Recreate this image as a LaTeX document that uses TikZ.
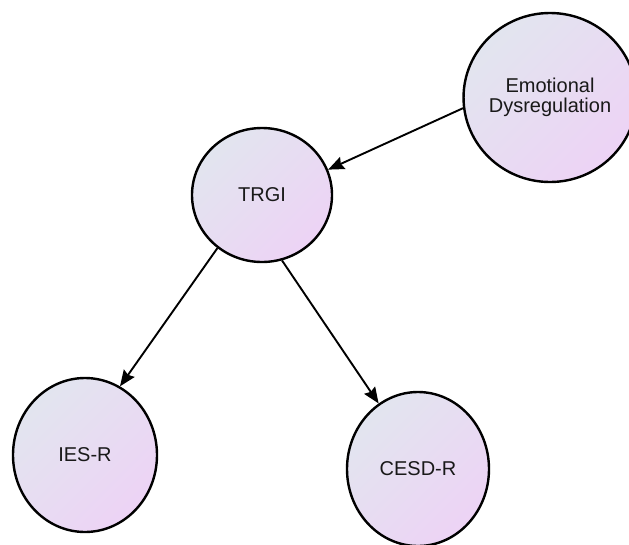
\documentclass[tikz,border=0pt]{standalone}
\usepackage{fontspec}
\setmainfont{Liberation Sans}
\usetikzlibrary{shapes.geometric,arrows.meta}

\definecolor{fillA}{HTML}{E2E5EF}
\definecolor{fillB}{HTML}{EDD3F5}

\tikzset{
  var/.style={ellipse, draw=black, line width=2.4pt, inner sep=0pt,
    shading=axis, top color=fillA, bottom color=fillB, shading angle=45,
    align=center, font=\fontsize{20}{19.5}\selectfont, text=black!90},
  link/.style={draw=black, line width=1.9pt,
    -{Stealth[length=16pt,width=13pt,inset=2pt]}}
}

\begin{document}
\begin{tikzpicture}[x=1pt,y=-1pt]
  \useasboundingbox (0,0) rectangle (629,544);

  \node[var, minimum width=160pt, minimum height=169pt] (ed) at (550,97.5) {Emotional\\Dysregulation};
  \node[var, minimum width=140pt, minimum height=134pt] (trgi) at (262,195) {TRGI};
  \node[var, minimum width=144pt, minimum height=154pt] (ies) at (85,455) {IES-R};
  \node[var, minimum width=142pt, minimum height=154pt] (cesd) at (418,469) {CESD-R};

  \draw[link] (ed.187.5) -- (trgi.21.8);
  \draw[link] (trgi.230.3) -- (ies.63.4);
  \draw[link] (trgi.287.6) -- (cesd.121.8);
\end{tikzpicture}
\end{document}
